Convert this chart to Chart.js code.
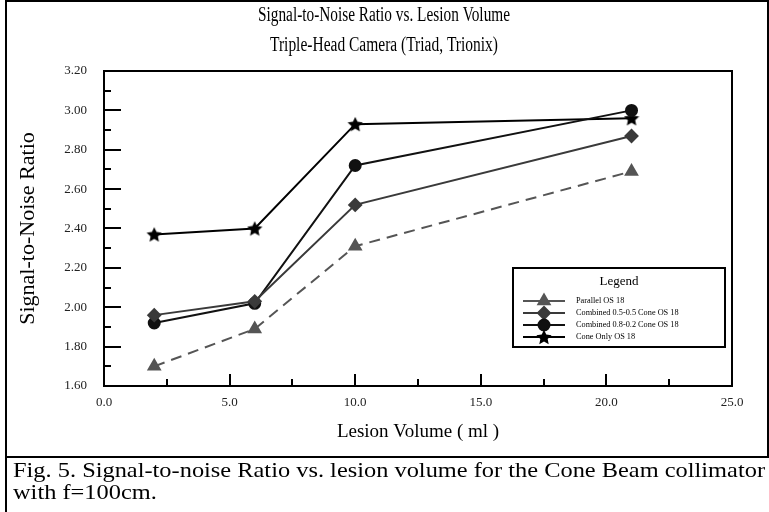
<!DOCTYPE html>
<html>
<head>
<meta charset="utf-8">
<script src="https://cdn.jsdelivr.net/npm/chart.js@4/dist/chart.umd.min.js"></script>
<style>
html, body { margin: 0; padding: 0; background: #fff; }
</style>
</head>
<body>
<canvas id="snrChart" width="769" height="512"></canvas>
<script>
// lesion volumes (ml) and SNR
var volumes = [2, 6, 10, 21];
var parallelOS18 = [1.70, 1.89, 2.31, 2.69];
var combined55OS18 = [1.96, 2.03, 2.52, 2.87];
var combined82OS18 = [1.92, 2.02, 2.72, 3.00];
var coneOnlyOS18 = [2.37, 2.40, 2.93, 2.96];
var seriesNames = ["Parallel OS 18", "Combined 0.5-0.5 Cone OS 18", "Combined 0.8-0.2 Cone OS 18", "Cone Only OS 18"];
var xTickValues = [0, 5, 10, 15, 20, 25];
var yTickValues = [1.6, 1.8, 2.0, 2.2, 2.4, 2.6, 2.8, 3.0, 3.2];

var serif = '"Liberation Serif", "Times New Roman", serif';

function toPoints(ys) {
    return volumes.map(function (v, i) { return {x: v, y: ys[i]}; });
}

// filled five point star for the cone only series
function makeStar(size, color) {
    var c = document.createElement('canvas');
    c.width = size; c.height = size;
    var g = c.getContext('2d');
    var cx = size / 2, cy = size / 2 + 0.7, R = size / 2, r = R * 0.48;
    g.fillStyle = color;
    g.beginPath();
    for (var k = 0; k < 10; k++) {
        var a = -Math.PI / 2 + k * Math.PI / 5;
        var rad = k % 2 ? r : R;
        g.lineTo(cx + rad * Math.cos(a), cy + rad * Math.sin(a));
    }
    g.closePath();
    g.fill();
    return c;
}
var starImg = makeStar(16, '#000');

// draw text squeezed/stretched to a given width (the scan's fonts are not normal width)
function fitText(ctx, text, x, y, width) {
    var w = ctx.measureText(text).width;
    ctx.save();
    ctx.translate(x, y);
    ctx.scale(width / w, 1);
    ctx.fillText(text, 0, 0);
    ctx.restore();
}

var decorations = {
    id: 'decorations',
    afterDraw: function (chart) {
        var ctx = chart.ctx;
        var area = chart.chartArea;
        var xs = chart.scales.x, ys = chart.scales.y;
        ctx.save();

        // outer frame and caption separator
        ctx.strokeStyle = '#000';
        ctx.lineWidth = 2;
        ctx.beginPath();
        ctx.moveTo(6, 512); ctx.lineTo(6, 1); ctx.lineTo(768, 1); ctx.lineTo(768, 457);
        ctx.moveTo(6, 457); ctx.lineTo(769, 457);
        ctx.stroke();

        // plot box
        ctx.strokeRect(area.left, area.top, area.right - area.left, area.bottom - area.top);

        // inward ticks
        ctx.beginPath();
        for (var k = 1; k < 16; k++) {
            var py = Math.round(ys.getPixelForValue(1.6 + k * 0.1));
            var len = (k % 2 === 0) ? 17 : 7;
            ctx.moveTo(area.left, py); ctx.lineTo(area.left + len, py);
        }
        for (var j = 1; j < 10; j++) {
            var px = Math.round(xs.getPixelForValue(j * 2.5));
            var l2 = (j % 2 === 0) ? 12 : 7;
            ctx.moveTo(px, area.bottom); ctx.lineTo(px, area.bottom - l2);
        }
        ctx.stroke();

        // title
        ctx.fillStyle = '#000';
        ctx.textAlign = 'center';
        ctx.textBaseline = 'middle';
        ctx.font = '20px ' + serif;
        fitText(ctx, 'Signal-to-Noise Ratio vs. Lesion Volume', 384, 16, 252);
        fitText(ctx, 'Triple-Head Camera (Triad, Trionix)', 384, 46, 228);

        // legend box
        var lx = 513, ly = 268, lw = 212, lh = 79;
        ctx.lineWidth = 2;
        ctx.strokeRect(lx, ly, lw, lh);
        ctx.font = '13px ' + serif;
        ctx.fillText('Legend', lx + lw / 2, ly + 14);
        chart.data.datasets.forEach(function (ds, i) {
            var yy = ly + 33 + i * 12;
            ctx.strokeStyle = ds.borderColor;
            ctx.fillStyle = ds.pointBackgroundColor;
            ctx.lineWidth = 2;
            ctx.setLineDash([]);
            ctx.beginPath();
            ctx.moveTo(lx + 10, yy); ctx.lineTo(lx + 52, yy);
            ctx.stroke();
            Chart.helpers.drawPoint(ctx, {
                pointStyle: ds.pointStyle, radius: ds.pointRadius, rotation: 0, borderWidth: 1
            }, lx + 31, yy);
            ctx.fillStyle = '#000';
            ctx.textAlign = 'left';
            ctx.font = '9px ' + serif;
            var tw = ctx.measureText(ds.label).width * 0.92;
            fitText(ctx, ds.label, lx + 63, yy, tw);
        });

        // caption
        ctx.fillStyle = '#000';
        ctx.textAlign = 'left';
        ctx.textBaseline = 'alphabetic';
        ctx.font = '22px ' + serif;
        fitText(ctx, 'Fig. 5. Signal-to-noise Ratio vs. lesion volume for the Cone Beam collimator', 13, 477, 752);
        var s = 752 / ctx.measureText('Fig. 5. Signal-to-noise Ratio vs. lesion volume for the Cone Beam collimator').width;
        fitText(ctx, 'with f=100cm.', 13, 499, ctx.measureText('with f=100cm.').width * s);
        ctx.restore();
    }
};

var ctx = document.getElementById('snrChart');
var snrChart = new Chart(ctx, {
    type: 'line',
    data: {
        datasets: [
            {
                label: seriesNames[0],
                data: toPoints(parallelOS18),
                borderColor: '#555',
                backgroundColor: '#555',
                pointBackgroundColor: '#555',
                pointBorderColor: '#555',
                borderWidth: 2,
                borderDash: [11, 7],
                pointStyle: 'triangle',
                pointRadius: 6.5
            },
            {
                label: seriesNames[1],
                data: toPoints(combined55OS18),
                borderColor: '#3a3a3a',
                backgroundColor: '#3a3a3a',
                pointBackgroundColor: '#3a3a3a',
                pointBorderColor: '#3a3a3a',
                borderWidth: 2,
                pointStyle: 'rectRot',
                pointRadius: 6
            },
            {
                label: seriesNames[2],
                data: toPoints(combined82OS18),
                borderColor: '#111',
                backgroundColor: '#111',
                pointBackgroundColor: '#111',
                pointBorderColor: '#111',
                borderWidth: 2,
                pointStyle: 'circle',
                pointRadius: 5.5
            },
            {
                label: seriesNames[3],
                data: toPoints(coneOnlyOS18),
                borderColor: '#000',
                backgroundColor: '#000',
                pointBackgroundColor: '#000',
                pointBorderColor: '#000',
                borderWidth: 2,
                pointStyle: starImg,
                pointRadius: 7
            }
        ]
    },
    options: {
        responsive: false,
        animation: false,
        layout: { padding: { left: 0, top: 71, right: 37, bottom: 55 } },
        plugins: {
            legend: { display: false },
            tooltip: { enabled: false },
            title: { display: false }
        },
        scales: {
            x: {
                type: 'linear',
                min: 0,
                max: 25,
                afterBuildTicks: function (axis) {
                    axis.ticks = xTickValues.map(function (v) { return {value: v}; });
                },
                afterFit: function (axis) { axis.height = 71; },
                grid: { display: false, drawTicks: false },
                border: { display: false },
                ticks: {
                    padding: 9,
                    color: '#222',
                    font: { family: serif, size: 13 },
                    callback: function (v) { return Number(v).toFixed(1); }
                },
                title: {
                    display: true,
                    text: 'Lesion Volume ( ml )',
                    color: '#000',
                    font: { family: serif, size: 19 },
                    padding: { top: 0, bottom: 14 }
                }
            },
            y: {
                type: 'linear',
                min: 1.6,
                max: 3.2,
                afterBuildTicks: function (axis) {
                    axis.ticks = yTickValues.map(function (v) { return {value: v}; });
                },
                afterFit: function (axis) { axis.width = 104; },
                grid: { display: false, drawTicks: false },
                border: { display: false },
                ticks: {
                    padding: 17,
                    color: '#222',
                    font: { family: serif, size: 13 },
                    callback: function (v) { return Number(v).toFixed(2); }
                },
                title: {
                    display: true,
                    text: 'Signal-to-Noise Ratio',
                    color: '#000',
                    font: { family: serif, size: 22 },
                    padding: { top: 15, bottom: 0 }
                }
            }
        }
    },
    plugins: [decorations]
});
</script>
</body>
</html>
